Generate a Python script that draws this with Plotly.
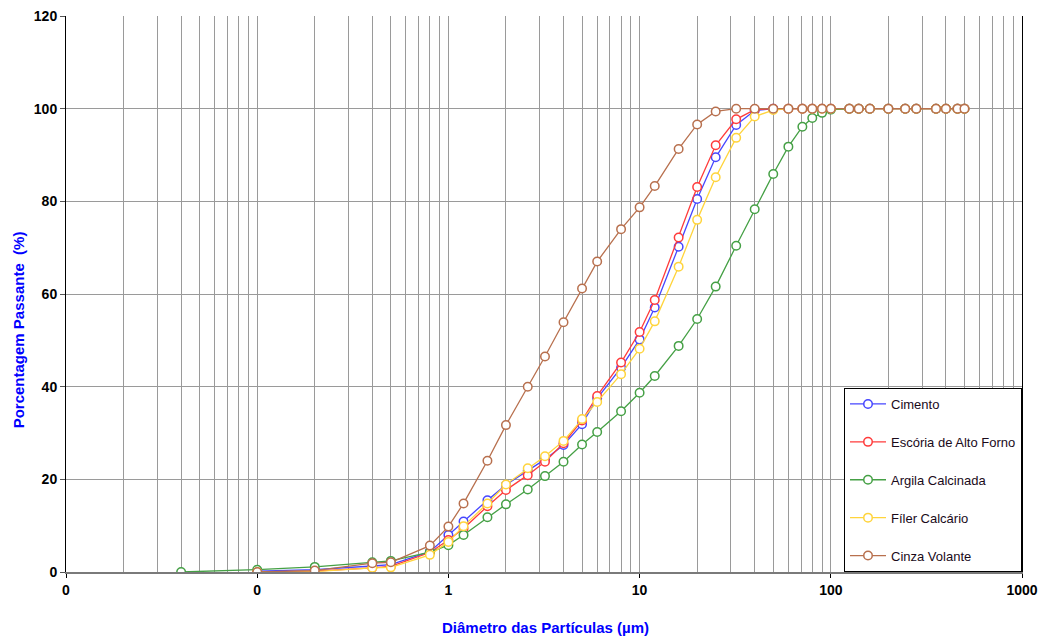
import plotly.graph_objects as go

# Particle diameters (µm)
diametro = [0.1, 0.2, 0.4, 0.5, 0.8, 1, 1.2, 1.6, 2, 2.6,
            3.2, 4, 5, 6, 8, 10, 12, 16, 20, 25,
            32, 40, 50, 60, 71, 80, 90, 100, 125, 140,
            160, 200, 245, 280, 355, 400, 460, 500]
diametro_argila = [0.04] + diametro

cimento = [0.2, 0.5, 1.3, 1.6, 4.4, 8.0, 10.9, 15.5, 18.8, 21.9,
           24.3, 27.4, 31.9, 37.5, 44.1, 50.2, 57.1, 70.2, 80.5, 89.5,
           96.5, 99.6, 100, 100, 100, 100, 100, 100, 100, 100,
           100, 100, 100, 100, 100, 100, 100, 100]
escoria = [0.0, 0.2, 0.9, 1.2, 4.2, 6.9, 9.4, 14.2, 17.7, 20.9,
           23.8, 27.8, 32.7, 38.0, 45.2, 51.8, 58.7, 72.2, 83.1, 92.1,
           97.7, 99.8, 100, 100, 100, 100, 100, 100, 100, 100,
           100, 100, 100, 100, 100, 100, 100, 100]
argila = [0.0,
          0.5, 1.1, 2.1, 2.4, 4.3, 5.8, 8.0, 11.8, 14.6, 17.8,
          20.7, 23.8, 27.5, 30.2, 34.7, 38.7, 42.3, 48.8, 54.6, 61.6,
          70.4, 78.3, 85.9, 91.8, 96.1, 98.0, 99.1, 99.8, 100, 100,
          100, 100, 100, 100, 100, 100, 100, 100]
filer = [0.0, 0.1, 0.9, 1.0, 3.7, 6.5, 9.9, 14.8, 18.9, 22.4,
         25.0, 28.3, 33.0, 36.7, 42.7, 48.2, 54.1, 65.9, 76.0, 85.2,
         93.7, 98.3, 99.7, 100, 100, 100, 100, 100, 100, 100,
         100, 100, 100, 100, 100, 100, 100, 100]
cinza = [0.0, 0.3, 1.9, 2.1, 5.7, 9.8, 14.8, 24.0, 31.7, 40.0,
         46.5, 53.9, 61.2, 67.0, 74.0, 78.7, 83.3, 91.3, 96.6, 99.4,
         100, 100, 100, 100, 100, 100, 100, 100, 100, 100,
         100, 100, 100, 100, 100, 100, 100, 100]

series = [
    ("Cimento", diametro, cimento, "#4646ff"),
    ("Escória de Alto Forno", diametro, escoria, "#ff3b3b"),
    ("Argila Calcinada", diametro_argila, argila, "#45a045"),
    ("Fíler Calcário", diametro, filer, "#ffd43c"),
    ("Cinza Volante", diametro, cinza, "#b8704e"),
]

x_major = [0.01, 0.1, 1, 10, 100, 1000]
x_labels = ["0", "0", "1", "10", "100", "1000"]
x_minor = [m * d for d in [0.01, 0.1, 1, 10, 100] for m in range(2, 10)]
y_ticks = [0, 20, 40, 60, 80, 100, 120]

FONT = "Arial, Liberation Sans, sans-serif"

fig = go.Figure()
for i, (name, xs, ys, col) in enumerate(series):
    fig.add_trace(go.Scatter(
        x=xs, y=ys, name=name, mode="lines+markers",
        legendgroup=f"g{i}",
        line=dict(color=col, width=1.3),
        marker=dict(symbol="circle", size=8.5, color="white",
                    line=dict(color=col, width=1.5)),
    ))

fig.update_layout(
    width=1043, height=637,
    margin=dict(l=66, r=21, t=16, b=65, autoexpand=False),
    paper_bgcolor="white", plot_bgcolor="white",
    font=dict(family=FONT, color="black"),
    showlegend=True,
    legend=dict(
        x=1, y=0, xanchor="right", yanchor="bottom",
        bgcolor="white", bordercolor="black", borderwidth=1,
        font=dict(family=FONT, size=13, color="#1a0a1a"),
        traceorder="grouped", tracegroupgap=18, itemwidth=36,
        entrywidth=140, entrywidthmode="pixels",
    ),
    xaxis=dict(
        type="log", range=[-2, 3], automargin=False,
        tickmode="array", tickvals=x_major, ticktext=x_labels,
        ticks="outside", ticklen=4, tickcolor="black",
        tickfont=dict(family=FONT, size=14, color="black", weight="bold"),
        showgrid=True, gridcolor="#9a9a9a", gridwidth=1,
        minor=dict(tickmode="array", tickvals=x_minor, showgrid=True,
                   gridcolor="#9a9a9a", gridwidth=1, ticks=""),
        showline=True, linecolor="#7a7a7a", linewidth=2,
        zeroline=False,
    ),
    yaxis=dict(
        range=[0, 120], tickmode="array", tickvals=y_ticks, automargin=False,
        ticks="outside", ticklen=5, tickcolor="#555555",
        tickfont=dict(family=FONT, size=14, color="black", weight="bold"),
        showgrid=True, gridcolor="#9a9a9a", gridwidth=1,
        showline=True, linecolor="black", linewidth=1, mirror=True,
        zeroline=False,
    ),
    annotations=[
        dict(text="Diâmetro das Partículas (µm)", xref="paper", yref="paper",
             x=0.502, y=-0.099, xanchor="center", yanchor="middle",
             showarrow=False,
             font=dict(family=FONT, size=15, color="#0000ff", weight="bold")),
        dict(text="Porcentagem Passante\u00a0 (%)", xref="paper", yref="paper",
             x=-0.050, y=0.435, xanchor="center", yanchor="middle",
             textangle=-90, showarrow=False,
             font=dict(family=FONT, size=15, color="#0000ff", weight="bold")),
    ],
)

fig.write_html("out.html")
